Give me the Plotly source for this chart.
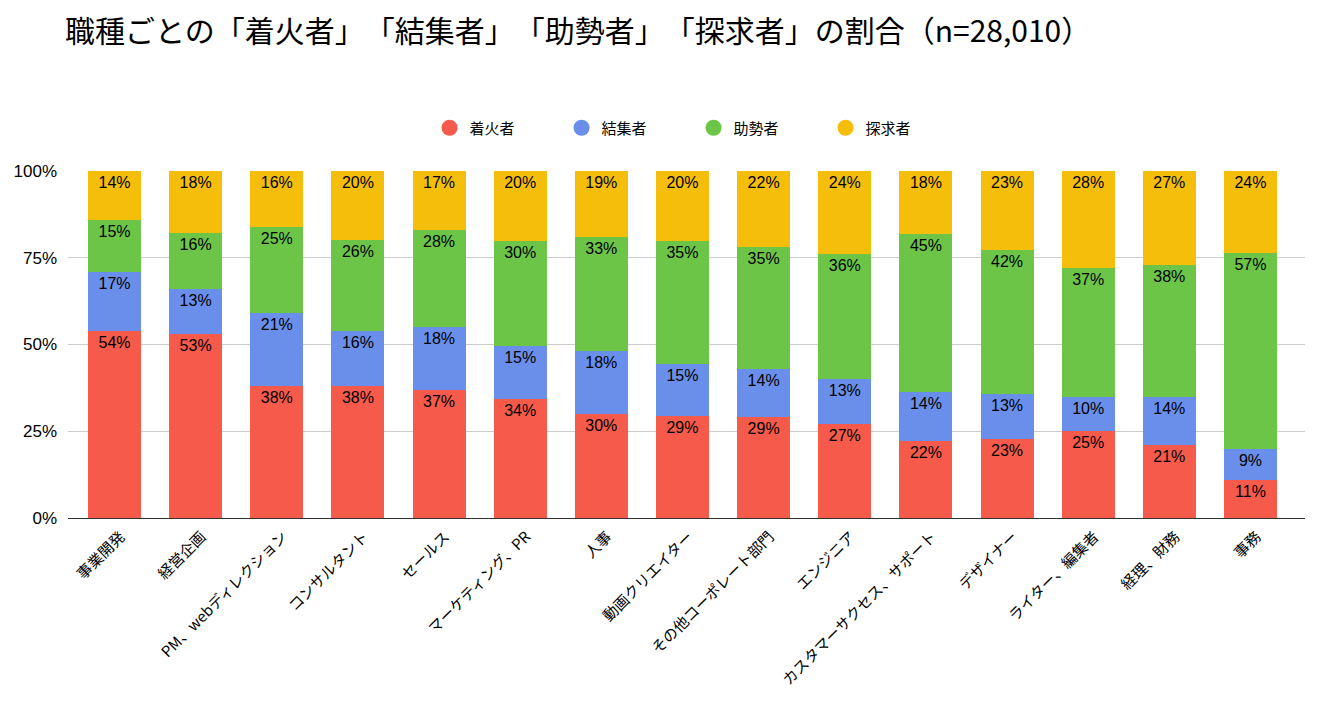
import plotly.graph_objects as go

# 職種ごとの割合 (%)
categories = ["事業開発", "経営企画", "PM、webディレクション", "コンサルタント", "セールス",
              "マーケティング、PR", "人事", "動画クリエイター", "その他コーポレート部門", "エンジニア",
              "カスタマーサクセス、サポート", "デザイナー", "ライター、編集者", "経理、財務", "事務"]

igniter = [54, 53, 38, 38, 37, 34, 30, 29, 29, 27, 22, 23, 25, 21, 11]    # 着火者
gatherer = [17, 13, 21, 16, 18, 15, 18, 15, 14, 13, 14, 13, 10, 14, 9]    # 結集者
booster = [15, 16, 25, 26, 28, 30, 33, 35, 35, 36, 45, 42, 37, 38, 57]    # 助勢者
explorer = [14, 18, 16, 20, 17, 20, 19, 20, 22, 24, 18, 23, 28, 27, 24]   # 探求者

y_ticks = [0, 25, 50, 75, 100]

series = [("着火者", igniter, "#F55A4A"),
          ("結集者", gatherer, "#6A8FEA"),
          ("助勢者", booster, "#6CC547"),
          ("探求者", explorer, "#F5BE0B")]

font_jp = "Noto Sans CJK JP"
font_num = "Liberation Sans, Arial"

# zero-width spaces keep the browser from squeezing 」「 together
title_text = "職種ごとの「着火者」\u200b「結集者」\u200b「助勢者」\u200b「探求者」\u200bの割合（n=28,010）"

fig = go.Figure()

for name, vals, color in series:
    fig.add_trace(go.Bar(
        x=categories, y=vals, name=name,
        marker=dict(color=color, line=dict(width=0)),
        text=[f"{v}%" for v in vals],
        textposition="inside",
        insidetextanchor="end",
        textangle=0,
        constraintext="none",
        textfont=dict(color="black", size=16, family=font_num),
        showlegend=False,
        hoverinfo="skip",
    ))

# circle legend markers
for name, vals, color in series:
    fig.add_trace(go.Scatter(
        x=[None], y=[None], mode="markers", name=name,
        marker=dict(color=color, size=22, symbol="circle"),
    ))

# the page body adds an 8px offset, margins compensate for it
fig.update_layout(
    barmode="stack",
    barnorm="percent",
    bargap=0.347,
    width=1318, height=725,
    margin=dict(l=60, r=21, t=163, b=215),
    plot_bgcolor="white",
    paper_bgcolor="white",
    font=dict(family=font_jp, color="black", size=14),
    title=dict(
        text=title_text,
        xref="container", yref="container",
        x=57 / 1318, xanchor="left",
        y=1 - 23 / 725, yanchor="middle",
        font=dict(size=30, family=font_jp, color="black"),
    ),
    legend=dict(
        orientation="h",
        x=0.5057, xanchor="center",
        y=1.124, yanchor="middle",
        font=dict(size=15, family=font_jp),
        entrywidth=87,
        entrywidthmode="pixels",
        traceorder="normal",
    ),
)

fig.update_yaxes(
    range=[0, 100],
    tickvals=y_ticks,
    ticktext=[f"{t}%" for t in y_ticks],
    showgrid=True, gridcolor="#CCCCCC", gridwidth=1,
    zeroline=False,
    tickfont=dict(size=17, family=font_num),
    ticks="",
    ticklabelstandoff=10,
    automargin=False,
)
fig.update_xaxes(
    range=[-0.573, 14.672],
    tickangle=-45,
    showline=True, linecolor="#333333", linewidth=1,
    tickfont=dict(size=15, family=font_jp),
    ticks="",
    ticklabelstandoff=3,
    ticklabelshift=6,
    automargin=False,
)

fig.write_html("out.html")
